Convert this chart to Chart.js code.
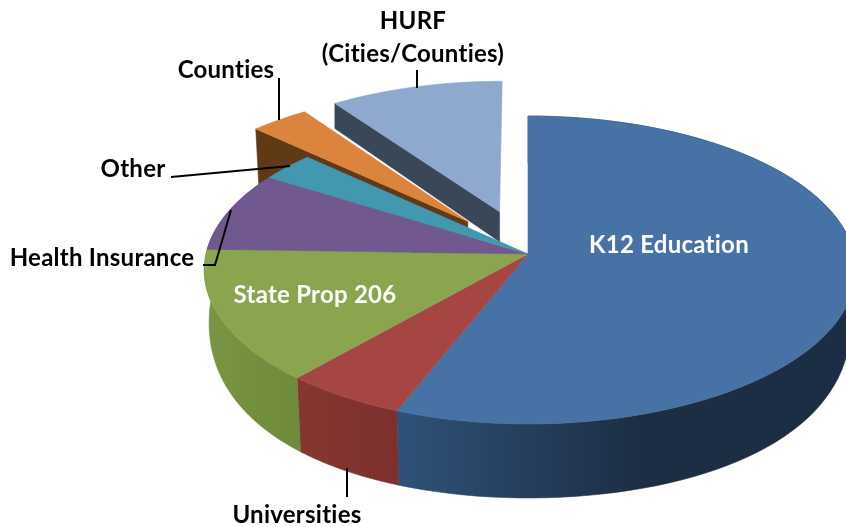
<!DOCTYPE html>
<html>
<head>
<meta charset="utf-8">
<title>Budget pie</title>
<script src="https://cdn.jsdelivr.net/npm/chart.js@4"></script>
<style>
    html, body { margin: 0; padding: 0; background: #fff; }
    canvas { display: block; }
</style>
</head>
<body>
<canvas id="pieChart" width="846" height="527"></canvas>
<script>
const categories = ["K12 Education", "Universities", "State Prop 206", "Health Insurance", "Other", "Counties", ["HURF", "(Cities/Counties)"]];
const shares = [56, 5.5, 14, 8.4, 3, 3.3, 9.8];
const explode = [0, 0, 0, 0, 0, 29, 30];

const topColors = ['#4672A5', '#A64642', '#8AA54E', '#71588F', '#4198AF', '#DB843D', '#8FA8CE'];
const wallColors = [
    ['#2F5279', '#1C2E44'],
    ['#87362F', '#7C302E'],
    ['#7A9642', '#6E8A3B'],
    ['#5A4672', '#5A4672'],
    ['#2F7084', '#2F7084'],
    ['#603A14', '#603A14'],
    ['#3A4759', '#3A4759']
];
// wall of the pulled out slices: depth at rim, depth at apex, lean of the rim edge
const explodedWall = { 5: [56, 56, 3], 6: [25, 30, 0] };

// label text boxes, same order as categories: centre x, centre y, colour
const labelSpots = [
    [669, 245, '#fff'], [297, 515, '#000'], [315, 295, '#fff'], [102, 258, '#000'],
    [133, 169, '#000'], [226, 70, '#000'], [413, 21, '#000']
];
const leaders = [
    [[279, 78], [279, 120]],
    [[417, 70], [417, 88]],
    [[171, 177], [290, 166]],
    [[203, 265], [215, 265], [231, 210]],
    [[347, 468], [347, 497]]
];

// perspective of the tilted disc
const cx = 528, cy = 254, B = 152.3, k = 0.104;

const project = (u, v) => {
    const w = 1 - k * v;
    const R = u < 0 ? 322 : 326; // the picture is not quite symmetric around the centre
    return { x: cx + R * u / w, y: cy + B * v / w };
};
const lower = (p, depth) => ({ x: cx + (p.x - cx) * 0.985, y: p.y + depth });
const discDepth = (v) => {
    const f = Math.max(v, 0); // back half is hidden under the top face anyway
    return 47 + 62 * f - 35 * f * f;
};

const rimPoints = (arc, ou, ov) => {
    const pts = [];
    const steps = 90;
    for (let s = 0; s <= steps; s++) {
        const a = arc.startAngle + (arc.endAngle - arc.startAngle) * s / steps;
        const u = Math.cos(a) + ou, v = Math.sin(a) + ov;
        pts.push({ p: project(u, v), v: v });
    }
    return pts;
};

const fillPath = (ctx, points, fill) => {
    ctx.beginPath();
    points.forEach((p, i) => i ? ctx.lineTo(p.x, p.y) : ctx.moveTo(p.x, p.y));
    ctx.closePath();
    ctx.fillStyle = fill;
    ctx.fill();
    ctx.strokeStyle = fill;
    ctx.lineWidth = 0.6;
    ctx.stroke();
};

const wallFill = (ctx, i, pts) => {
    const xs = pts.map(p => p.x);
    const g = ctx.createLinearGradient(Math.min(...xs), 0, Math.min(Math.max(...xs), 640), 0);
    g.addColorStop(0, wallColors[i][0]);
    g.addColorStop(1, wallColors[i][1]);
    return g;
};

const pie3d = {
    id: 'pie3d',
    beforeDatasetsDraw: (chart) => {
        const ctx = chart.ctx;
        const arcs = chart.getDatasetMeta(0).data;
        const shift = (arc) => {
            const mid = (arc.startAngle + arc.endAngle) / 2;
            const o = arc.options.offset / 100;
            return [Math.cos(mid) * o, Math.sin(mid) * o];
        };

        // pulled out slices first, they sit behind the disc
        [6, 5].forEach((i) => {
            const [ou, ov] = shift(arcs[i]);
            const rim = project(Math.cos(arcs[i].startAngle) + ou, Math.sin(arcs[i].startAngle) + ov);
            const apex = project(ou, ov);
            const [rimDepth, apexDepth, lean] = explodedWall[i];
            const wall = [rim, apex, { x: apex.x, y: apex.y + apexDepth }, { x: rim.x + lean, y: rim.y + rimDepth }];
            fillPath(ctx, wall, wallColors[i][0]);
            const pts = rimPoints(arcs[i], ou, ov).map(r => r.p);
            fillPath(ctx, [apex].concat(pts), topColors[i]);
        });

        // side wall of the disc
        arcs.slice(0, 5).forEach((arc, i) => {
            const rim = rimPoints(arc, 0, 0);
            const top = rim.map(r => r.p);
            const bottom = rim.map(r => lower(r.p, discDepth(r.v))).reverse();
            const pts = top.concat(bottom);
            fillPath(ctx, pts, wallFill(ctx, i, pts));
        });

        // top faces
        arcs.slice(0, 5).forEach((arc, i) => {
            const pts = rimPoints(arc, 0, 0).map(r => r.p);
            fillPath(ctx, [project(0, 0)].concat(pts), topColors[i]);
        });
        return false;
    },
    afterDraw: (chart) => {
        const ctx = chart.ctx;
        ctx.save();
        ctx.strokeStyle = '#000';
        ctx.lineWidth = 2;
        leaders.forEach((line) => {
            ctx.beginPath();
            line.forEach((p, i) => i ? ctx.lineTo(p[0], p[1]) : ctx.moveTo(p[0], p[1]));
            ctx.stroke();
        });
        ctx.font = 'bold 24px Lato';
        ctx.letterSpacing = '0.25px'; // also stops the Lato "ti" ligature
        ctx.textAlign = 'center';
        ctx.textBaseline = 'middle';
        chart.data.labels.forEach((label, i) => {
            const [x, y, color] = labelSpots[i];
            ctx.fillStyle = color;
            [].concat(label).forEach((line, n) => ctx.fillText(line, x, y + n * 33));
        });
        ctx.restore();
    }
};

new Chart(document.getElementById('pieChart').getContext('2d'), {
    type: 'pie',
    data: {
        labels: categories,
        datasets: [{
            data: shares,
            backgroundColor: topColors,
            offset: explode,
            borderWidth: 0
        }]
    },
    options: {
        responsive: false,
        animation: false,
        plugins: {
            legend: { display: false },
            tooltip: { enabled: false }
        }
    },
    plugins: [pie3d]
});
</script>
</body>
</html>
